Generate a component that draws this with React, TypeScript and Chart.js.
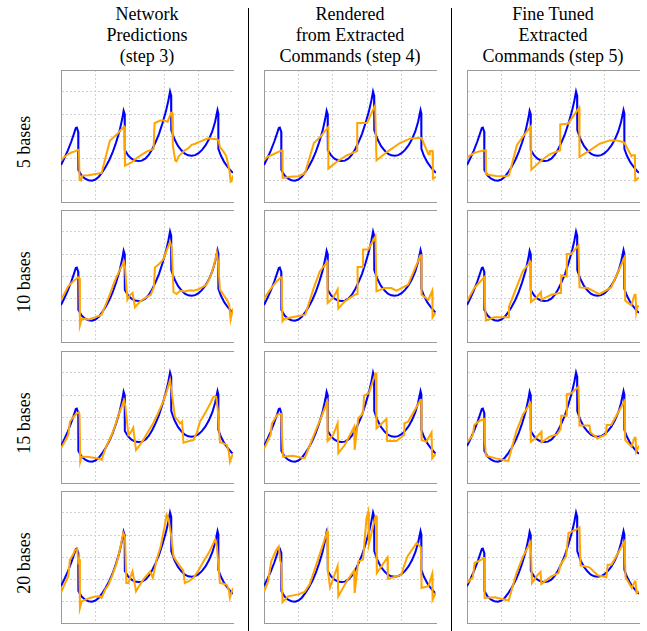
import React, { useEffect, useRef } from "react";
import { Chart, registerables } from "chart.js";

Chart.register(...registerables);

type Pt = [number, number];

const COLUMN_TITLES: string[][] = [
  ["Network", "Predictions", "(step 3)"],
  ["Rendered", "from Extracted", "Commands (step 4)"],
  ["Fine Tuned", "Extracted", "Commands (step 5)"],
];
const ROW_LABELS: string[] = ["5 bases", "10 bases", "15 bases", "20 bases"];

const X_MIN = 0;
const X_MAX = 5;
const Y_MIN = 0;
const Y_MAX = 6;

// target curve (blue), identical in every panel
const TARGET: Pt[] = [
  [0, 1.68], [0.1, 2.0], [0.2, 2.35], [0.3, 2.75], [0.38, 3.12], [0.43, 3.36], [0.46, 3.38], [0.5, 3.2],
  [0.505, 1.45], [0.6, 1.2], [0.7, 1.06], [0.8, 0.99], [0.9, 0.97], [1.0, 1.02], [1.1, 1.15], [1.2, 1.36],
  [1.3, 1.6], [1.4, 1.9], [1.5, 2.25], [1.6, 2.7], [1.7, 3.22], [1.78, 3.78], [1.82, 4.15], [1.85, 4.0],
  [1.855, 2.36], [1.95, 2.12], [2.05, 1.97], [2.15, 1.89], [2.25, 1.86], [2.35, 1.88], [2.45, 1.97],
  [2.55, 2.14], [2.65, 2.4], [2.75, 2.72], [2.85, 3.1], [2.95, 3.58], [3.05, 4.12], [3.12, 4.6],
  [3.17, 5.02], [3.2, 4.85], [3.205, 3.27], [3.3, 2.85], [3.4, 2.55], [3.5, 2.35], [3.6, 2.2], [3.7, 2.12],
  [3.8, 2.1], [3.9, 2.13], [4.0, 2.22], [4.1, 2.37], [4.2, 2.57], [4.3, 2.85], [4.4, 3.22], [4.48, 3.65],
  [4.55, 4.18], [4.57, 4.05], [4.575, 2.42], [4.65, 2.1], [4.75, 1.8], [4.85, 1.58], [4.95, 1.4], [5, 1.33],
];

// Network predictions (step 3)
const PRED_5: Pt[] = [
  [0, 1.88], [0.1, 2.05], [0.2, 2.17], [0.3, 2.25], [0.4, 2.3], [0.5, 2.38], [0.52, 2.4], [0.54, 1.0],
  [0.58, 0.98], [0.62, 1.2], [0.8, 1.22], [1.0, 1.27], [1.18, 1.32], [1.3, 2.05], [1.42, 2.78], [1.55, 2.98],
  [1.62, 3.06], [1.75, 3.3], [1.84, 3.42], [1.86, 1.65], [1.95, 1.72], [2.05, 1.8], [2.2, 2.0], [2.34, 2.14],
  [2.5, 2.3], [2.64, 2.38], [2.69, 2.4], [2.72, 3.58], [2.88, 3.7], [3.0, 3.7], [3.1, 3.65], [3.2, 4.06],
  [3.23, 4.06], [3.25, 2.6], [3.32, 1.88], [3.36, 1.85], [3.42, 2.08], [3.5, 2.2], [3.6, 2.35], [3.7, 2.44],
  [3.8, 2.6], [3.9, 2.65], [4.0, 2.72], [4.1, 2.78], [4.2, 2.85], [4.3, 2.9], [4.4, 2.88], [4.52, 2.85],
  [4.58, 2.8], [4.62, 2.5], [4.72, 2.3], [4.8, 2.1], [4.86, 1.7], [4.9, 1.4], [4.93, 0.92], [4.96, 0.95],
  [5, 1.2],
];
const PRED_10: Pt[] = [
  [0, 1.92], [0.1, 2.2], [0.21, 2.53], [0.35, 2.75], [0.5, 2.94], [0.53, 2.9], [0.55, 0.76], [0.6, 1.06],
  [0.8, 1.02], [0.99, 1.12], [1.18, 1.24], [1.3, 1.7], [1.42, 2.15], [1.52, 2.6], [1.62, 2.98], [1.72, 3.3],
  [1.83, 3.64], [1.86, 3.4], [1.93, 1.92], [2.0, 2.12], [2.08, 2.23], [2.15, 1.58], [2.3, 1.85], [2.45, 2.0],
  [2.61, 2.15], [2.7, 2.5], [2.73, 3.39], [2.85, 3.55], [2.97, 3.74], [3.08, 4.2], [3.17, 4.55], [3.22, 4.3],
  [3.27, 2.27], [3.36, 2.18], [3.46, 2.33], [3.6, 2.3], [3.75, 2.35], [3.85, 2.33], [4.0, 2.4], [4.1, 2.48],
  [4.23, 2.61], [4.35, 3.0], [4.45, 3.5], [4.53, 4.05], [4.57, 3.6], [4.62, 2.38], [4.72, 2.15], [4.82, 1.92],
  [4.89, 1.7], [4.93, 1.02], [5, 1.52],
];
const PRED_15: Pt[] = [
  [0, 1.58], [0.1, 1.85], [0.21, 2.18], [0.26, 2.79], [0.36, 3.0], [0.46, 3.17], [0.52, 3.21], [0.54, 3.1],
  [0.56, 0.97], [0.6, 1.2], [0.8, 1.18], [1.0, 1.14], [1.13, 1.09], [1.18, 1.05], [1.3, 1.6], [1.47, 2.18],
  [1.57, 2.6], [1.67, 3.09], [1.75, 3.4], [1.83, 3.77], [1.87, 3.5], [1.96, 2.18], [2.03, 2.3], [2.1, 2.52],
  [2.18, 1.5], [2.28, 1.7], [2.39, 1.95], [2.5, 2.25], [2.68, 2.71], [2.8, 3.1], [2.97, 3.7], [3.08, 4.2],
  [3.17, 4.68], [3.22, 4.1], [3.31, 3.02], [3.4, 2.85], [3.46, 2.71], [3.52, 2.8], [3.56, 1.83], [3.7, 1.9],
  [3.85, 1.95], [3.95, 2.3], [4.04, 2.79], [4.2, 3.2], [4.35, 3.65], [4.43, 3.92], [4.51, 3.92], [4.56, 3.3],
  [4.62, 1.85], [4.72, 1.8], [4.82, 1.73], [4.88, 1.4], [4.91, 0.97], [5, 1.35],
];
const PRED_20: Pt[] = [
  [0, 1.36], [0.1, 1.75], [0.21, 2.12], [0.26, 2.88], [0.35, 3.1], [0.41, 3.33], [0.47, 3.36], [0.5, 2.8],
  [0.53, 2.9], [0.55, 0.68], [0.6, 0.98], [0.7, 1.05], [0.84, 1.14], [1.0, 1.2], [1.13, 1.21], [1.18, 1.14],
  [1.28, 1.5], [1.38, 1.74], [1.5, 2.2], [1.62, 2.73], [1.72, 3.4], [1.81, 4.09], [1.86, 3.9], [1.9, 1.82],
  [1.96, 1.82], [2.02, 2.1], [2.08, 2.35], [2.18, 1.44], [2.28, 1.7], [2.39, 1.97], [2.59, 2.35], [2.67, 2.05],
  [2.78, 2.88], [2.9, 3.5], [3.0, 4.3], [3.07, 4.92], [3.12, 4.77], [3.2, 4.0], [3.27, 3.03], [3.36, 2.8],
  [3.46, 2.58], [3.55, 2.4], [3.6, 1.82], [3.72, 1.9], [3.85, 2.05], [4.0, 2.4], [4.14, 2.8], [4.3, 3.2],
  [4.48, 3.79], [4.53, 3.5], [4.62, 1.82], [4.72, 1.78], [4.82, 1.74], [4.88, 1.5], [4.91, 1.14], [5, 1.59],
];

// Rendered from extracted commands (step 4)
const REND_5: Pt[] = [
  [0, 1.89], [0.1, 2.05], [0.27, 2.17], [0.4, 2.27], [0.53, 2.35], [0.54, 1.1], [0.56, 1.09], [0.76, 1.15],
  [1.0, 1.17], [1.19, 1.3], [1.45, 2.68], [1.63, 2.95], [1.87, 3.41], [1.87, 1.52], [2.11, 1.82], [2.4, 2.12],
  [2.71, 2.32], [2.71, 3.59], [2.98, 3.59], [3.0, 3.62], [3.23, 4.39], [3.25, 4.39], [3.27, 1.89],
  [3.57, 2.27], [3.95, 2.68], [4.24, 2.88], [4.53, 2.92], [4.58, 2.9], [4.78, 2.17], [4.8, 2.17],
  [4.82, 2.32], [4.9, 2.32], [4.91, 1.06], [5, 1.14],
];
const REND_10: Pt[] = [
  [0, 1.97], [0.1, 2.2], [0.21, 2.45], [0.35, 2.72], [0.49, 2.94], [0.51, 2.94], [0.52, 1.85], [0.54, 0.94],
  [0.6, 1.06], [0.89, 1.15], [1.2, 1.24], [1.43, 2.38], [1.62, 3.21], [1.84, 3.64], [1.85, 1.77], [2.01, 2.0],
  [2.14, 2.39], [2.16, 1.52], [2.35, 1.85], [2.64, 2.15], [2.72, 2.18], [2.72, 3.41], [2.88, 3.41],
  [2.88, 4.2], [3.03, 4.2], [3.24, 4.8], [3.25, 4.8], [3.27, 2.3], [3.51, 2.45], [3.7, 2.45], [3.85, 2.33],
  [4.0, 2.45], [4.19, 2.61], [4.55, 3.94], [4.57, 3.94], [4.58, 2.15], [4.78, 1.92], [4.89, 2.33],
  [4.9, 1.12], [5, 1.36],
];
const REND_15: Pt[] = [
  [0, 1.55], [0.19, 2.18], [0.23, 2.7], [0.39, 3.11], [0.5, 3.15], [0.51, 3.15], [0.52, 2.45], [0.55, 1.2],
  [0.84, 1.24], [1.18, 1.12], [1.47, 2.26], [1.67, 3.02], [1.84, 3.7], [1.85, 1.91], [2.01, 2.18],
  [2.14, 2.71], [2.16, 1.35], [2.35, 1.73], [2.62, 2.56], [2.63, 1.5], [2.64, 1.5], [2.74, 2.94],
  [2.88, 3.17], [2.91, 3.97], [3.05, 4.08], [3.24, 4.98], [3.26, 4.98], [3.27, 2.48], [3.56, 2.91],
  [3.58, 1.91], [3.85, 1.91], [4.07, 2.18], [4.08, 2.71], [4.19, 2.79], [4.55, 3.77], [4.57, 3.77],
  [4.58, 1.95], [4.72, 1.88], [4.87, 2.3], [4.89, 1.12], [5, 1.35],
];
const REND_20: Pt[] = [
  [0, 1.41], [0.12, 1.89], [0.21, 2.8], [0.36, 3.33], [0.43, 3.48], [0.47, 2.83], [0.5, 2.7], [0.54, 0.95],
  [0.7, 1.21], [1.0, 1.3], [1.18, 1.41], [1.33, 1.77], [1.57, 2.88], [1.84, 4.17], [1.86, 2.32],
  [1.92, 1.62], [2.14, 2.58], [2.16, 1.21], [2.4, 1.89], [2.62, 2.38], [2.63, 1.36], [2.64, 1.36],
  [2.74, 2.8], [2.88, 2.88], [2.93, 3.86], [2.98, 4.77], [3.03, 5.05], [3.05, 3.59], [3.24, 4.85],
  [3.26, 4.85], [3.28, 2.27], [3.59, 2.98], [3.6, 2.0], [4.0, 2.2], [4.05, 2.5], [4.17, 3.03], [4.44, 3.64],
  [4.56, 3.44], [4.58, 1.59], [4.78, 1.67], [4.89, 2.23], [4.9, 1.06], [5, 1.41],
];

// Fine tuned extracted commands (step 5)
const TUNE_5: Pt[] = [
  [0, 2.02], [0.17, 2.2], [0.35, 2.3], [0.54, 2.35], [0.55, 1.26], [0.7, 1.22], [0.85, 1.18], [1.14, 1.17],
  [1.22, 1.21], [1.45, 2.58], [1.65, 3.03], [1.86, 3.44], [1.87, 1.47], [2.11, 1.82], [2.4, 2.17],
  [2.71, 2.35], [2.71, 3.53], [2.94, 3.56], [3.26, 4.29], [3.27, 2.05], [3.57, 2.35], [3.86, 2.65],
  [4.15, 2.8], [4.35, 2.8], [4.53, 2.73], [4.58, 2.68], [4.78, 2.08], [4.8, 2.12], [4.88, 2.12],
  [4.89, 0.98], [5, 1.11],
];
const TUNE_10: Pt[] = [
  [0, 1.85], [0.21, 2.45], [0.5, 2.94], [0.51, 2.94], [0.52, 1.85], [0.55, 0.97], [0.79, 1.12], [1.2, 1.12],
  [1.22, 1.6], [1.43, 2.45], [1.62, 3.21], [1.84, 3.64], [1.86, 1.82], [2.01, 2.0], [2.15, 2.27],
  [2.17, 1.92], [2.45, 2.15], [2.69, 2.23], [2.73, 2.23], [2.74, 3.03], [2.88, 2.98], [2.9, 4.0],
  [3.03, 4.0], [3.24, 4.39], [3.25, 4.39], [3.27, 2.48], [3.51, 2.45], [3.85, 2.18], [4.19, 2.48],
  [4.58, 3.85], [4.59, 3.85], [4.6, 1.88], [4.78, 1.67], [4.87, 2.15], [4.9, 2.15], [4.92, 1.36],
  [4.95, 1.62], [5, 1.62],
];
const TUNE_15: Pt[] = [
  [0, 1.85], [0.17, 2.18], [0.21, 2.64], [0.36, 2.82], [0.5, 2.91], [0.51, 2.91], [0.52, 1.95], [0.55, 1.24],
  [0.84, 1.12], [1.2, 1.0], [1.43, 2.33], [1.62, 3.09], [1.84, 3.62], [1.85, 3.62], [1.86, 1.88],
  [2.01, 2.06], [2.16, 2.33], [2.17, 1.85], [2.4, 2.11], [2.62, 2.21], [2.72, 2.45], [2.74, 3.06],
  [2.88, 3.06], [2.9, 4.03], [3.03, 4.08], [3.24, 4.38], [3.25, 4.38], [3.27, 2.61], [3.56, 2.61],
  [3.59, 2.3], [3.8, 2.03], [4.04, 2.21], [4.06, 2.64], [4.19, 2.64], [4.58, 3.73], [4.59, 3.73],
  [4.6, 1.95], [4.78, 1.65], [4.87, 2.06], [4.9, 2.06], [4.92, 1.42], [5, 1.7],
];
const TUNE_20: Pt[] = [
  [0, 1.82], [0.17, 2.08], [0.22, 2.73], [0.42, 2.88], [0.47, 2.95], [0.5, 2.95], [0.51, 1.14], [0.81, 1.17],
  [1.21, 1.02], [1.44, 2.27], [1.63, 3.03], [1.85, 3.68], [1.86, 3.68], [1.89, 1.82], [2.06, 2.2],
  [2.14, 2.32], [2.16, 1.77], [2.45, 2.12], [2.66, 2.27], [2.72, 2.65], [2.88, 3.03], [2.95, 4.09],
  [3.17, 4.24], [3.27, 4.35], [3.28, 4.35], [3.3, 2.62], [3.56, 2.53], [3.8, 2.17], [4.05, 2.08],
  [4.09, 2.65], [4.2, 2.65], [4.57, 3.68], [4.59, 3.68], [4.61, 2.08], [4.79, 1.59], [4.88, 1.89],
  [4.9, 1.89], [4.93, 1.36], [5, 1.44],
];

// rows x columns
const SERIES: Pt[][][] = [
  [PRED_5, REND_5, TUNE_5],
  [PRED_10, REND_10, TUNE_10],
  [PRED_15, REND_15, TUNE_15],
  [PRED_20, REND_20, TUNE_20],
];

const COL_LEFT = [61, 264, 467];
const ROW_TOP = [70, 210, 351, 491];
const PANEL_W = 172;
const PANEL_H = 132;
const PAD = 4;

const GRID_COLOR = "#d2d2d2";
const AXIS_COLOR = "#9a9a9a";
const SERIF = '"Liberation Serif", "Times New Roman", Times, serif';

function Panel({ left, top, series }: { left: number; top: number; series: Pt[] }) {
  const ref = useRef<HTMLCanvasElement | null>(null);
  useEffect(() => {
    if (!ref.current) return;
    const gridColor = (max: number) => (ctx: any) =>
      ctx.tick && ctx.tick.value === max ? "rgba(0,0,0,0)" : GRID_COLOR;
    const chart = new Chart(ref.current, {
      type: "line",
      data: {
        datasets: [
          {
            data: series.map(([x, y]) => ({ x, y })),
            borderColor: "#FFA500",
            borderWidth: 2,
            pointRadius: 0,
            tension: 0,
            order: 0,
          },
          {
            data: TARGET.map(([x, y]) => ({ x, y })),
            borderColor: "#0000FF",
            borderWidth: 2,
            pointRadius: 0,
            tension: 0,
            order: 1,
          },
        ],
      },
      options: {
        animation: false,
        responsive: false,
        maintainAspectRatio: false,
        events: [],
        layout: { padding: PAD },
        plugins: { legend: { display: false }, tooltip: { enabled: false } },
        scales: {
          x: {
            type: "linear",
            min: X_MIN,
            max: X_MAX,
            ticks: { display: false, stepSize: 1 },
            grid: { color: gridColor(X_MAX), lineWidth: 1, drawTicks: false },
            border: { display: true, color: AXIS_COLOR, width: 1, dash: [2, 2] },
          },
          x2: {
            type: "linear",
            position: "top",
            display: true,
            min: X_MIN,
            max: X_MAX,
            ticks: { display: false },
            grid: { display: false, drawTicks: false },
            border: { display: true, color: AXIS_COLOR, width: 1 },
          },
          y: {
            type: "linear",
            min: Y_MIN,
            max: Y_MAX,
            ticks: { display: false, stepSize: 1 },
            grid: { color: gridColor(Y_MAX), lineWidth: 1, drawTicks: false },
            border: { display: true, color: AXIS_COLOR, width: 1, dash: [2, 2] },
          },
        },
      },
    } as any);
    return () => chart.destroy();
  }, [series]);
  const w = PANEL_W + 2 * PAD;
  const h = PANEL_H + 2 * PAD;
  return (
    <canvas
      ref={ref}
      width={w}
      height={h}
      style={{ position: "absolute", left: left - PAD, top: top - PAD, width: w, height: h }}
    />
  );
}

export default function App() {
  return (
    <div
      style={{
        position: "absolute",
        left: 0,
        top: 0,
        width: 647,
        height: 631,
        background: "#fff",
        overflow: "hidden",
        fontFamily: SERIF,
      }}
    >
      {COLUMN_TITLES.map((lines, c) => (
        <div
          key={"t" + c}
          style={{
            position: "absolute",
            left: COL_LEFT[c] + PANEL_W / 2 - 100,
            top: 4,
            width: 200,
            textAlign: "center",
            fontSize: 18,
            lineHeight: "21px",
            color: "#000",
          }}
        >
          {lines.map((l, i) => (
            <div key={i}>{l}</div>
          ))}
        </div>
      ))}
      {ROW_LABELS.map((label, r) => (
        <div
          key={"r" + r}
          style={{
            position: "absolute",
            left: 24 - 60,
            top: ROW_TOP[r] + 72 - 9,
            width: 120,
            height: 18,
            lineHeight: "18px",
            fontSize: 18,
            textAlign: "center",
            transform: "rotate(-90deg)",
            whiteSpace: "nowrap",
            color: "#000",
          }}
        >
          {label}
        </div>
      ))}
      <div style={{ position: "absolute", left: 248, top: 8, width: 1, height: 623, background: "#000" }} />
      <div style={{ position: "absolute", left: 451, top: 8, width: 1, height: 623, background: "#000" }} />
      {SERIES.map((row, r) =>
        row.map((s, c) => <Panel key={r + "-" + c} left={COL_LEFT[c]} top={ROW_TOP[r]} series={s} />)
      )}
    </div>
  );
}
